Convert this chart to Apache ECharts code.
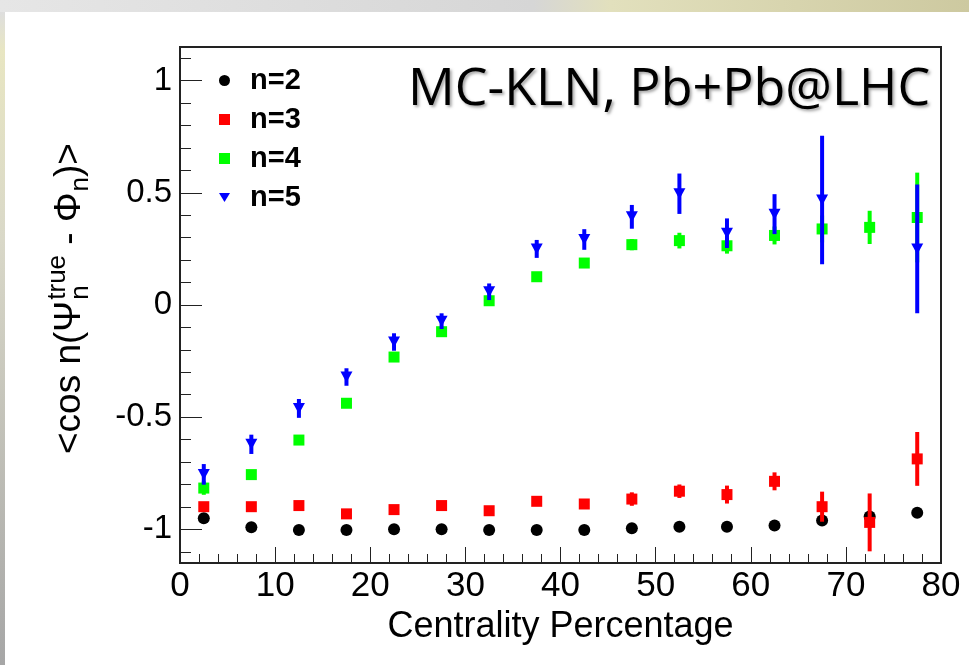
<!DOCTYPE html>
<html>
<head>
<meta charset="utf-8">
<script src="https://cdn.jsdelivr.net/npm/echarts@6.0.0/dist/echarts.min.js"></script>
<style>
html,body{margin:0;padding:0;background:#fff;}
#chart{width:969px;height:665px;}
</style>
</head>
<body>
<div id="chart"></div>
<script>
// ---------------- data ----------------
const centrality = [2.5, 7.5, 12.5, 17.5, 22.5, 27.5, 32.5, 37.5, 42.5, 47.5, 52.5, 57.5, 62.5, 67.5, 72.5, 77.5];

const n2Values = [-0.951, -0.991, -1.003, -1.003, -1.0, -1.0, -1.003, -1.003, -1.003, -0.995, -0.988, -0.988, -0.983, -0.961, -0.943, -0.926];
const n2Errors = [0.01, 0.01, 0.01, 0.01, 0.01, 0.01, 0.01, 0.01, 0.01, 0.01, 0.01, 0.01, 0.012, 0.015, 0.02, 0.02];

const n3Values = [-0.899, -0.899, -0.894, -0.931, -0.912, -0.894, -0.917, -0.875, -0.887, -0.865, -0.83, -0.845, -0.786, -0.899, -0.969, -0.686];
const n3Errors = [0.01, 0.01, 0.01, 0.01, 0.01, 0.01, 0.012, 0.015, 0.02, 0.03, 0.03, 0.04, 0.04, 0.067, 0.129, 0.12];

const n4Values = [-0.816, -0.756, -0.602, -0.438, -0.232, -0.119, 0.019, 0.126, 0.187, 0.269, 0.287, 0.264, 0.31, 0.339, 0.346, 0.39];
const n4Errors = [0.03, 0.015, 0.015, 0.015, 0.015, 0.015, 0.015, 0.02, 0.02, 0.025, 0.035, 0.035, 0.04, 0.06, 0.074, 0.2];

const n5Values = [-0.755, -0.621, -0.461, -0.321, -0.165, -0.072, 0.059, 0.25, 0.292, 0.393, 0.496, 0.32, 0.405, 0.468, null, 0.25];
const n5Errors = [0.046, 0.043, 0.042, 0.039, 0.039, 0.035, 0.037, 0.04, 0.046, 0.053, 0.09, 0.066, 0.089, 0.286, null, 0.287];

const seriesNames = ['n=2', 'n=3', 'n=4', 'n=5'];
const yMajorTicks = [-1, -0.5, 0, 0.5, 1];
const yMinorTicks = [-1.1, -1.0, -0.9, -0.8, -0.7, -0.6, -0.5, -0.4, -0.3, -0.2, -0.1, 0, 0.1, 0.2, 0.3, 0.4, 0.5, 0.6, 0.7, 0.8, 0.9, 1.0, 1.1];
const xAxisTitle = 'Centrality Percentage';
const plotLabel = 'MC-KLN, Pb+Pb@LHC';

// ---------------- helpers ----------------
function points(vals) {
  const out = [];
  centrality.forEach((x, i) => { if (vals[i] !== null) out.push([x, vals[i]]); });
  return out;
}
function bars(vals, errs) {
  const out = [];
  centrality.forEach((x, i) => { if (vals[i] !== null) out.push([x, vals[i] - errs[i], vals[i] + errs[i]]); });
  return out;
}
function errSeries(name, vals, errs, color, z) {
  return {
    name: name + ' err', type: 'custom', z: z, silent: true,
    data: bars(vals, errs),
    encode: { x: 0, y: [1, 2] },
    renderItem: function (params, api) {
      const x = api.value(0);
      const a = api.coord([x, api.value(1)]);
      const b = api.coord([x, api.value(2)]);
      return { type: 'line', shape: { x1: a[0], y1: a[1], x2: b[0], y2: b[1] },
               style: { stroke: color, lineWidth: 4 } };
    }
  };
}
function pointSeries(name, vals, color, symbol, size, rotate, z) {
  return {
    name: name, type: 'scatter', z: z, data: points(vals),
    symbol: symbol, symbolSize: size, symbolRotate: rotate, symbolKeepAspect: true,
    itemStyle: { color: color, opacity: 1 },
    emphasis: { disabled: true }
  };
}

// ---------------- rotated y-axis title ----------------
const FONT = 'Liberation Sans';
const mctx = document.createElement('canvas').getContext('2d');
function tw(t, s) { mctx.font = s + 'px "' + FONT + '"'; return mctx.measureText(t).width; }
const F = 37, S = 26;
function piece(t, s, lx, base) {
  return { type: 'text', x: lx, y: base - 0.3465 * s,
    style: { text: t, font: s + 'px "' + FONT + '"', fill: '#000', align: 'left', verticalAlign: 'middle' } };
}
const yTitleChildren = [];
let lx = 0;
yTitleChildren.push(piece('<cos n(', F, lx, 0)); lx += tw('<cos n(', F);
yTitleChildren.push(piece('\u03A8', F, lx, 0)); lx += tw('\u03A8', F) + 1;
yTitleChildren.push(piece('true', S, lx, -16));
yTitleChildren.push(piece('n', S, lx, 7));
lx += Math.max(tw('true', S), tw('n', S));
yTitleChildren.push(piece(' - \u03A6', F, lx, 0)); lx += tw(' - \u03A6', F) + 1;
yTitleChildren.push(piece('n', S, lx, 7)); lx += tw('n', S);
yTitleChildren.push(piece(')>', F, lx, 0)); lx += tw(')>', F);

// ---------------- chart ----------------
const chart = echarts.init(document.getElementById('chart'), null, { renderer: 'canvas' });
const axisColor = '#222';
const legendText = { fontFamily: FONT, fontWeight: 'bold', fontSize: 29, lineHeight: 29, color: '#000', padding: [0, 0, 0, 15] };
chart.setOption({
  animation: false,
  backgroundColor: '#ffffff',
  grid: { left: 180, right: 28, top: 47, bottom: 102, show: true, borderColor: axisColor, borderWidth: 2,
          backgroundColor: 'transparent', containLabel: false, outerBoundsMode: 'none' },
  legend: {
    data: [
      { name: seriesNames[0], icon: 'circle' },
      { name: seriesNames[1], icon: 'rect' },
      { name: seriesNames[2], icon: 'rect' },
      { name: seriesNames[3], icon: 'path://M0,0L12,0L6,10Z' }
    ],
    orient: 'vertical', left: 219, top: 66, padding: 0,
    itemWidth: 11, itemHeight: 11, itemGap: 10, symbolKeepAspect: true, selectedMode: false,
    formatter: function (name) { return '{t|' + name + '}'; },
    textStyle: { fontFamily: FONT, fontWeight: 'bold', fontSize: 29, color: '#000', rich: { t: legendText } }
  },
  xAxis: {
    type: 'value', min: 0, max: 80, interval: 10, position: 'bottom',
    axisLine: { show: true, onZero: false, lineStyle: { color: axisColor, width: 2 } },
    axisTick: { show: true, inside: true, length: 16, lineStyle: { color: axisColor, width: 1 } },
    minorTick: { show: true, splitNumber: 5, length: 9, lineStyle: { color: axisColor, width: 1 } },
    axisLabel: { color: '#000', fontFamily: FONT, fontSize: 35, lineHeight: 35, margin: 6, showMinLabel: true, showMaxLabel: true },
    splitLine: { show: false }, minorSplitLine: { show: false },
    name: xAxisTitle, nameLocation: 'middle', nameGap: 41,
    nameTextStyle: { color: '#000', fontFamily: FONT, fontSize: 36, lineHeight: 36 }
  },
  yAxis: [
    {
      type: 'value', min: -1.15, max: 1.15, position: 'left',
      axisLine: { show: true, onZero: false, lineStyle: { color: axisColor, width: 2 } },
      axisTick: { show: true, inside: true, length: 22, customValues: yMajorTicks, lineStyle: { color: axisColor, width: 1 } },
      axisLabel: { color: '#000', fontFamily: FONT, fontSize: 33, margin: 8, customValues: yMajorTicks },
      splitLine: { show: false }
    },
    {
      type: 'value', min: -1.15, max: 1.15, position: 'left', offset: 0,
      axisLine: { show: false, onZero: false },
      axisTick: { show: true, inside: true, length: 11, customValues: yMinorTicks, lineStyle: { color: axisColor, width: 1 } },
      axisLabel: { show: false },
      splitLine: { show: false }
    }
  ],
  series: [
    errSeries('n=2', n2Values, n2Errors, '#000000', 2),
    pointSeries('n=2', n2Values, '#000000', 'circle', 12, 0, 3),
    errSeries('n=3', n3Values, n3Errors, '#ff0000', 4),
    pointSeries('n=3', n3Values, '#ff0000', 'rect', 11, 0, 5),
    errSeries('n=4', n4Values, n4Errors, '#00ff00', 6),
    pointSeries('n=4', n4Values, '#00ff00', 'rect', 11, 0, 7),
    errSeries('n=5', n5Values, n5Errors, '#0000ff', 8),
    pointSeries('n=5', n5Values, '#0000ff', 'triangle', [12, 11], 180, 9)
  ],
  graphic: [
    { type: 'rect', z: 0, shape: { x: 0, y: 0, width: 969, height: 12 },
      style: { fill: { type: 'linear', x: 0, y: 0, x2: 1, y2: 0, colorStops: [
        { offset: 0, color: '#e6e6e6' }, { offset: 0.55, color: '#d6d6d6' },
        { offset: 0.63, color: '#e2e0bd' }, { offset: 1, color: '#cdc9a0' } ] } } },
    { type: 'rect', z: 0, shape: { x: 0, y: 12, width: 5, height: 653 },
      style: { fill: { type: 'linear', x: 0, y: 0, x2: 0, y2: 1, colorStops: [
        { offset: 0, color: '#dedede' }, { offset: 0.06, color: '#e8e6c2' },
        { offset: 0.35, color: '#d9d8c8' }, { offset: 1, color: '#a6a6a6' } ] } } },
    { type: 'text', z: 100, left: 408, top: 64,
      style: { text: plotLabel, font: '52px "Open Sans"', fill: '#000',
               textShadowColor: 'rgba(0,0,0,0.35)', textShadowBlur: 3, textShadowOffsetX: 2, textShadowOffsetY: 2 } },
    { type: 'group', z: 100, x: 83, y: 454, rotation: Math.PI / 2, children: yTitleChildren }
  ]
});
</script>
</body>
</html>
